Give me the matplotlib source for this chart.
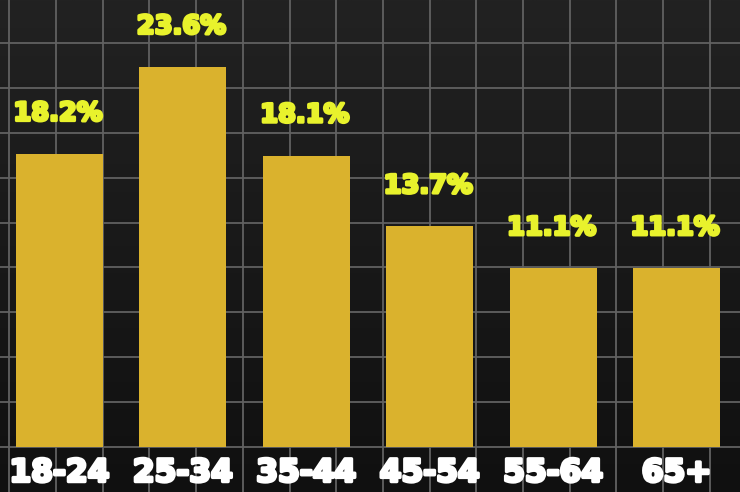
import numpy as np
import matplotlib
matplotlib.use("Agg")
import matplotlib.pyplot as plt
import matplotlib.patheffects as pe

ages   = ["18-24", "25-34", "35-44", "45-54", "55-64", "65+"]
shares = [18.2, 23.6, 18.1, 13.7, 11.1, 11.1]

bar_col   = "#dab22d"
label_col = "#e8f22c"
bg_col    = "#1c1c1c"
grid_col  = "#616161"

fg = plt.figure(figsize=(7.40, 4.92), dpi=100)
fg.patch.set_facecolor(bg_col)

# chalkboard style grid behind everything, in pixel units
bg = fg.add_axes([0, 0, 1, 1], zorder=0)
bg.set_xlim(0, 740)
bg.set_ylim(492, 0)
shade = np.linspace(0.0, 1.0, 256)[:, None] * np.ones((1, 16))
bg.imshow(shade, extent=(0, 740, 492, 0), aspect="auto",
          cmap=matplotlib.colors.LinearSegmentedColormap.from_list("bgc", ["#222222", "#101010"]))
for x in np.arange(9.3, 740, 46.7):
    bg.axvline(x, color=grid_col, lw=1.3)
for y in np.arange(447.0, 0, -44.9):
    bg.axhline(y, color=grid_col, lw=1.3)
bg.axis("off")

ax = fg.add_axes([0, 0, 1, 1], zorder=1)
ax.patch.set_alpha(0)
ax.set_xlim(-0.482, 5.515)
ax.set_ylim(-2.795, 27.76)

xpos = np.arange(len(ages))
ax.bar(xpos, shares, width=0.705, color=bar_col, zorder=3)

for i, v in enumerate(shares):
    ax.annotate("%.1f%%" % v, (xpos[i], v), xytext=(-1, 24), textcoords="offset points",
                ha="center", va="baseline", color=label_col, fontsize=18.5,
                fontweight="bold", family="DejaVu Sans",
                path_effects=[pe.withStroke(linewidth=2.2, foreground=label_col)])
    ax.text(xpos[i], -1.62, ages[i], ha="center", va="center", color="white",
            fontsize=22.5, fontweight="bold", family="DejaVu Sans",
            path_effects=[pe.withStroke(linewidth=2.4, foreground="white")])

ax.axis("off")

fg.savefig("out.png", dpi=100, facecolor=fg.get_facecolor())
plt.close(fg)
